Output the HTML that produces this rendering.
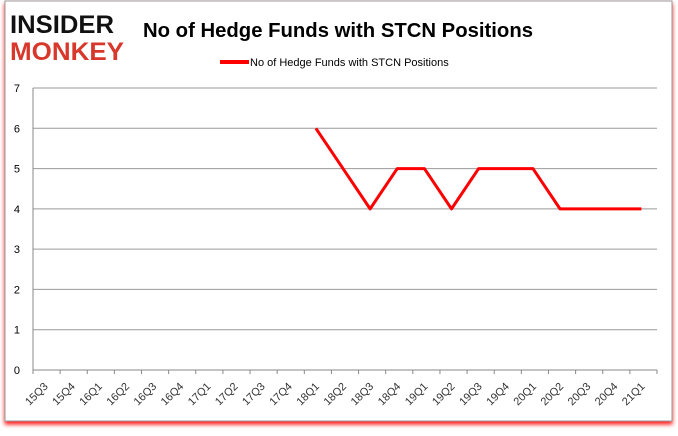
<!DOCTYPE html>
<html><head><meta charset="utf-8"><style>
body{margin:0;background:#fff;font-family:"Liberation Sans",sans-serif;}
</style></head><body>
<svg width="678" height="431" xmlns="http://www.w3.org/2000/svg">
<defs><filter id="sh" x="-5%" y="-5%" width="110%" height="115%"><feDropShadow dx="0" dy="3" stdDeviation="2" flood-color="#f00" flood-opacity="0.9"/></filter></defs>
<rect x="5" y="1" width="667" height="420" fill="#fff" stroke="#999" filter="url(#sh)"/>
<g>
<text x="10" y="33" font-family="Liberation Sans" font-weight="bold" font-size="25" fill="#111" textLength="104" lengthAdjust="spacingAndGlyphs">INSIDER</text>
<text x="10" y="60" font-family="Liberation Sans" font-weight="bold" font-size="25" fill="#d8382c" textLength="114" lengthAdjust="spacingAndGlyphs">MONKEY</text>
</g>
<text x="338" y="37" text-anchor="middle" font-size="20" font-weight="bold" fill="#000" textLength="390" lengthAdjust="spacingAndGlyphs">No of Hedge Funds with STCN Positions</text>
<g>
<line x1="220" y1="62" x2="249" y2="62" stroke="#f00" stroke-width="4"/>
<text x="250" y="66" font-size="11" fill="#000">No of Hedge Funds with STCN Positions</text>
</g>
<g id="grid"></g><g id="axes"></g><g id="series"></g>
</svg>
<script>
const categories=["15Q3","15Q4","16Q1","16Q2","16Q3","16Q4","17Q1","17Q2","17Q3","17Q4","18Q1","18Q2","18Q3","18Q4","19Q1","19Q2","19Q3","19Q4","20Q1","20Q2","20Q3","20Q4","21Q1"];
const values=[null,null,null,null,null,null,null,null,null,null,6,5,4,5,5,4,5,5,5,4,4,4,4];
const yTicks=[0,1,2,3,4,5,6,7];
const NS="http://www.w3.org/2000/svg";
const x0=33,x1=657,y0=370,y1=88,yMax=7;
const bw=(x1-x0)/categories.length;
const xPos=i=>x0+bw*(i+0.5)-2;
const yPos=v=>y0-(v/yMax)*(y0-y1);
function mk(t,a,p){const e=document.createElementNS(NS,t);for(const k in a)e.setAttribute(k,a[k]);p.appendChild(e);return e;}
const grid=document.getElementById('grid'),axes=document.getElementById('axes'),series=document.getElementById('series');
yTicks.forEach(v=>{
 const y=yPos(v);
 const l=mk('line',{x1:x0,x2:x1,y1:y,y2:y,stroke:v===0?'#888':'#999','stroke-width':1},grid);
 
 
 const t=mk('text',{x:20,y:y+4,'text-anchor':'end','font-size':11,fill:'#000'},axes);
 t.textContent=v;
 
 
});
mk('line',{x1:x0,x2:x0,y1:y1,y2:y0,stroke:'#888'},axes);
categories.forEach((c,i)=>{
 const tx=x0+bw*i;
 mk('line',{x1:tx,x2:tx,y1:y0,y2:y0+4,stroke:'#888'},axes);
 const x=xPos(i)+4,y=y0+17;
 const t=mk('text',{x:x,y:y,'text-anchor':'end','font-size':11,fill:'#333',transform:`rotate(-45 ${x} ${y})`},axes);
 t.textContent=c;
 
 
});
mk('line',{x1:x1,x2:x1,y1:y0,y2:y0+4,stroke:'#888'},axes);
let d='';
values.forEach((v,i)=>{if(v===null)return;d+=(d?'L':'M')+xPos(i)+' '+yPos(v);});
const p=mk('path',{d:d,fill:'none',stroke:'#f00','stroke-width':3,'stroke-linejoin':'round'},series);


</script>
</body></html>
